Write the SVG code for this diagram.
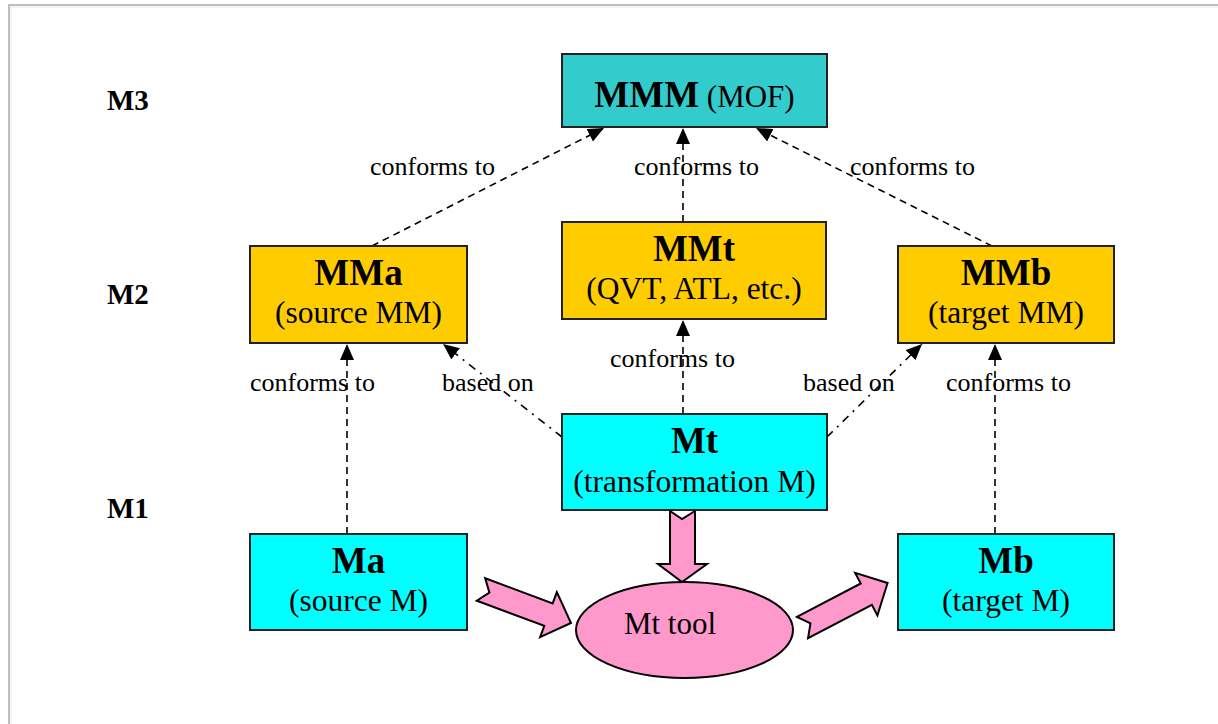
<svg xmlns="http://www.w3.org/2000/svg" width="1218" height="724" viewBox="0 0 1218 724">
<style>
text{font-family:"Liberation Serif","Times New Roman",serif;fill:#000}
.box{stroke:#222;stroke-width:2}
.b{font-weight:bold;font-size:37px}
.r{font-size:31px}
.rw{font-size:31.5px}
.lbl{font-size:26px}
.lvl{font-size:29px;font-weight:bold}
.dash{fill:none;stroke:#000;stroke-width:1.6;stroke-dasharray:7,5}
.dd{fill:none;stroke:#000;stroke-width:1.6;stroke-dasharray:8,6,2,6}
.blk{fill:#FF99CC;stroke:#000;stroke-width:2;stroke-linejoin:miter}
</style>
<defs>
<marker id="ah" markerUnits="userSpaceOnUse" markerWidth="18" markerHeight="16" refX="16" refY="7" orient="auto">
<path d="M0,0 L16,7 L0,14 Z" fill="#000"/>
</marker>
</defs>
<rect width="1218" height="724" fill="#fff"/>
<path d="M9,724 V5 H1218" fill="none" stroke="#BEBEBE" stroke-width="2"/>
<path d="M11,724 V7 H1218" fill="none" stroke="#E6E6E6" stroke-width="1"/>

<g id="levels">
<text class="lvl" x="107" y="110">M3</text>
<text class="lvl" x="107" y="304">M2</text>
<text class="lvl" x="107" y="518">M1</text>
</g>

<g id="connectors">
<line class="dash" x1="683" y1="222" x2="683" y2="128" marker-end="url(#ah)"/>
<line class="dash" x1="372" y1="246" x2="604" y2="128" marker-end="url(#ah)"/>
<line class="dash" x1="992" y1="246" x2="756" y2="128" marker-end="url(#ah)"/>
<line class="dash" x1="683" y1="414" x2="683" y2="320" marker-end="url(#ah)"/>
<line class="dash" x1="347" y1="534" x2="347" y2="344" marker-end="url(#ah)"/>
<line class="dash" x1="995" y1="534" x2="995" y2="344" marker-end="url(#ah)"/>
<line class="dd" x1="562" y1="437" x2="443" y2="344" marker-end="url(#ah)"/>
<line class="dd" x1="827" y1="437" x2="922" y2="344" marker-end="url(#ah)"/>
<polygon class="blk" points="670,511 682,519 695,511 695,564 707,564 682,582 658,564 670,564"/>
<g transform="translate(481,589.5) rotate(20.4)">
<polygon class="blk" points="0,-12 72,-12 72,-24 96,0 72,24 72,12 0,12 9,0"/>
</g>
<g transform="translate(802.5,627.5) rotate(-27.6)">
<polygon class="blk" points="0,-12 72,-12 72,-24 96,0 72,24 72,12 0,12 9,0"/>
</g>
<text class="lbl" x="370" y="175">conforms to</text>
<text class="lbl" x="634" y="175">conforms to</text>
<text class="lbl" x="850" y="175">conforms to</text>
<text class="lbl" x="610" y="367">conforms to</text>
<text class="lbl" x="250" y="391">conforms to</text>
<text class="lbl" x="946" y="391">conforms to</text>
<text class="lbl" x="442" y="391">based on</text>
<text class="lbl" x="803" y="391">based on</text>
</g>

<g id="MMM">
<rect class="box" x="562" y="54" width="265" height="73" fill="#33CCCC"/>
<text x="694.5" y="107" text-anchor="middle"><tspan class="b">MMM</tspan><tspan class="r"> (MOF)</tspan></text>
</g>
<g id="MMa">
<rect class="box" x="250" y="246" width="217" height="97" fill="#FFCC00"/>
<text class="b" x="358.5" y="285" text-anchor="middle">MMa</text>
<text class="rw" x="358.5" y="323" text-anchor="middle">(source MM)</text>
</g>
<g id="MMt">
<rect class="box" x="562" y="222" width="264" height="97" fill="#FFCC00"/>
<text class="b" x="694" y="261" text-anchor="middle">MMt</text>
<text class="rw" x="694" y="299" text-anchor="middle">(QVT, ATL, etc.)</text>
</g>
<g id="MMb">
<rect class="box" x="898" y="246" width="216" height="97" fill="#FFCC00"/>
<text class="b" x="1006" y="285" text-anchor="middle">MMb</text>
<text class="rw" x="1006" y="323" text-anchor="middle">(target MM)</text>
</g>
<g id="Mt">
<rect class="box" x="562" y="414" width="265" height="96" fill="#00FFFF"/>
<text class="b" x="694.5" y="453" text-anchor="middle">Mt</text>
<text class="rw" x="694.5" y="492" text-anchor="middle">(transformation M)</text>
</g>
<g id="Ma">
<rect class="box" x="250" y="534" width="217" height="96" fill="#00FFFF"/>
<text class="b" x="358.5" y="573" text-anchor="middle">Ma</text>
<text class="rw" x="358.5" y="611" text-anchor="middle">(source M)</text>
</g>
<g id="Mb">
<rect class="box" x="898" y="534" width="216" height="96" fill="#00FFFF"/>
<text class="b" x="1006" y="573" text-anchor="middle">Mb</text>
<text class="rw" x="1006" y="611" text-anchor="middle">(target M)</text>
</g>
<g id="Mttool">
<ellipse cx="684.5" cy="630" rx="108.5" ry="48" fill="#FF99CC" stroke="#000" stroke-width="2"/>
<text class="r" x="670" y="634" text-anchor="middle">Mt tool</text>
</g>
</svg>
